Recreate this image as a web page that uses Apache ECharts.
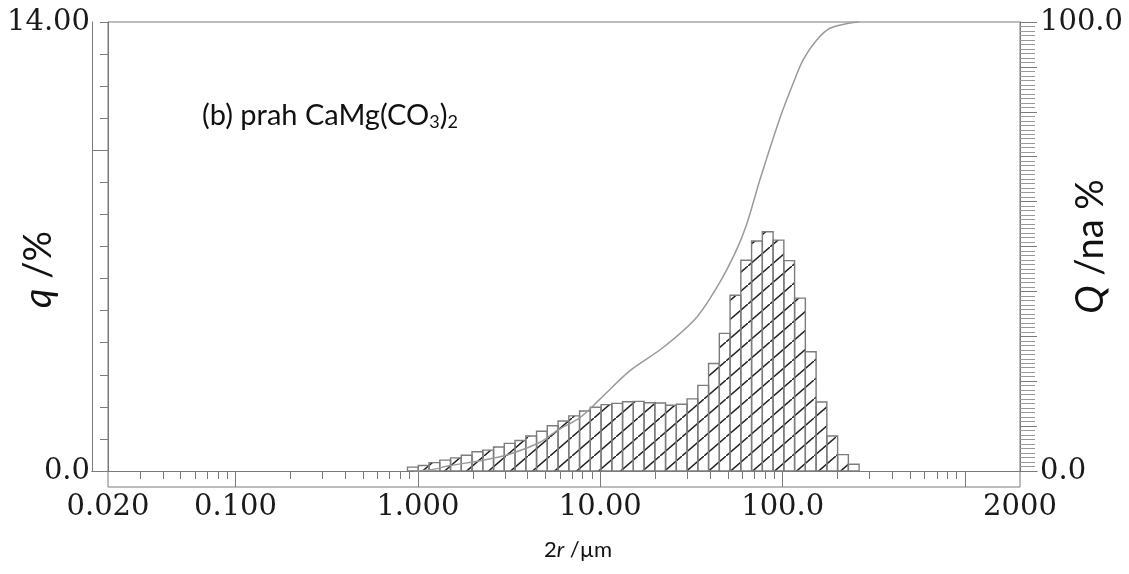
<!DOCTYPE html>
<html>
<head>
<meta charset="utf-8">
<script src="https://cdn.jsdelivr.net/npm/echarts@6/dist/echarts.min.js"></script>
<style>
html,body{margin:0;padding:0;background:#fff;}
#chart{width:1129px;height:574px;}
</style>
</head>
<body>
<div id="chart"></div>
<script>
// ---- data ----
// bin edges (µm), 43 edges for 42 classes
const binEdges = [0.877, 1.005, 1.151, 1.318, 1.510, 1.729, 1.981, 2.269, 2.599, 2.976,
  3.409, 3.905, 4.472, 5.122, 5.867, 6.720, 7.697, 8.816, 10.097, 11.565,
  13.246, 15.172, 17.377, 19.904, 22.797, 26.111, 29.907, 34.255, 39.234, 44.938,
  51.471, 58.953, 67.523, 77.339, 88.583, 101.46, 116.21, 133.10, 152.45, 174.62,
  200.0, 229.08, 262.38];
// frequency q (%) per class
const qValues = [0.12, 0.17, 0.26, 0.34, 0.41, 0.49, 0.60, 0.65, 0.75, 0.86,
  0.95, 1.09, 1.24, 1.41, 1.56, 1.72, 1.87, 1.99, 2.07, 2.11,
  2.16, 2.17, 2.13, 2.12, 2.05, 2.08, 2.25, 2.67, 3.35, 4.29,
  5.48, 6.57, 7.17, 7.46, 7.20, 6.56, 5.39, 3.72, 2.15, 1.09,
  0.51, 0.21];
// cumulative curve Q (%)
const cumSize = [0.95, 1.16, 1.50, 2.28, 3.20, 4.67, 5.79, 7.74, 9.96, 14.5,
  22.1, 33.7, 45.2, 55.9, 63.4, 75.1, 96.6, 114.3, 129.6, 153.6, 181.6, 233.8, 262];
const cumQ = [0.0, 0.2, 1.2, 2.4, 3.8, 6.4, 9.0, 11.9, 16.0, 22.3,
  27.5, 34.2, 42.0, 49.3, 54.9, 64.9, 78.6, 86.4, 91.6, 96.0, 98.6, 99.8, 100];
// axis ticks / labels
const xLabelValues = [0.02, 0.1, 1, 10, 100, 2000];
const xLabelTexts = ['0.020', '0.100', '1.000', '10.00', '100.0', '2000'];
const xMajorTicks = [0.1, 1, 10, 100, 1000];
const xMinorTicks = [0.03, 0.04, 0.05, 0.06, 0.07, 0.08, 0.09,
  0.2, 0.3, 0.4, 0.5, 0.6, 0.7, 0.8, 0.9,
  2, 3, 4, 5, 6, 7, 8, 9,
  20, 30, 40, 50, 60, 70, 80, 90,
  200, 300, 400, 500, 600, 700, 800, 900];
const leftLongTicks = [10];
const leftLabels = {0: '0.0', 14: '14.00'};
const rightLabels = {0: '0.0', 100: '100.0'};

// ---- build ----
const histData = qValues.map((q, i) => [binEdges[i], binEdges[i + 1], q]);
const cumData = cumSize.map((s, i) => [s, cumQ[i]]);

const pc = document.createElement('canvas');
pc.width = 22; pc.height = 19;
const g = pc.getContext('2d');
g.strokeStyle = '#222'; g.lineWidth = 1.5;
g.beginPath(); g.moveTo(-2, 19 + 2 * 19 / 22); g.lineTo(24, -2 * 19 / 22); g.stroke();
const hatch = {image: pc, repeat: 'repeat'};

const axisCol = '#7a7a7a';
const serif = 'DejaVu Serif';
const sans = 'Lato';
const gridBase = {outerBoundsMode: 'none', containLabel: false};

const chart = echarts.init(document.getElementById('chart'));
chart.setOption({
  animation: false,
  backgroundColor: '#fff',
  title: {
    text: '(b) prah CaMg(CO{sub|3}){sub|2}',
    left: 197, top: 95,
    textStyle: {
      fontFamily: sans, fontSize: 29, fontWeight: 'normal', color: '#111',
      rich: {sub: {fontFamily: sans, fontSize: 18, color: '#111', padding: [13, 0, 0, 0]}}
    }
  },
  grid: [
    Object.assign({left: 108, right: 109, top: 22, bottom: 103}, gridBase),
    Object.assign({left: 92, right: 92, top: 22, bottom: 103}, gridBase),
    Object.assign({left: 108, right: 109, top: 22, bottom: 87, show: true, borderColor: axisCol, borderWidth: 1, backgroundColor: 'transparent'}, gridBase)
  ],
  xAxis: [
    {
      type: 'log', logBase: 10, min: 0.02, max: 2000, gridIndex: 0, position: 'bottom',
      axisLine: {show: true, lineStyle: {color: axisCol, width: 1}},
      axisTick: {show: true, inside: false, length: 16, customValues: xMajorTicks, lineStyle: {color: axisCol}},
      axisLabel: {
        show: true, customValues: xLabelValues, margin: 22,
        fontFamily: serif, fontSize: 29, color: '#1a1a1a',
        formatter: function (v) {
          let best = 0, bd = Infinity;
          xLabelValues.forEach((x, i) => { const d = Math.abs(Math.log10(x) - Math.log10(v)); if (d < bd) { bd = d; best = i; } });
          return xLabelTexts[best];
        }
      },
      splitLine: {show: false},
      name: '2{it|r} /µm', nameLocation: 'middle', nameGap: 68, nameMoveOverlap: false,
      nameTextStyle: {fontFamily: sans, fontSize: 22, color: '#111', padding: [0, 0, 0, 28],
        rich: {it: {fontFamily: sans, fontSize: 22, fontStyle: 'italic', color: '#111'}}}
    },
    {
      type: 'log', logBase: 10, min: 0.02, max: 2000, gridIndex: 0, position: 'bottom',
      axisLine: {show: false},
      axisTick: {show: true, inside: false, length: 8, customValues: xMinorTicks, lineStyle: {color: axisCol}},
      axisLabel: {show: false}, splitLine: {show: false}
    },
    {type: 'value', min: 0, max: 1, gridIndex: 1, position: 'top',
      axisLine: {show: true, lineStyle: {color: axisCol}}, axisTick: {show: false}, axisLabel: {show: false}, splitLine: {show: false}},
    {type: 'value', min: 0, max: 1, gridIndex: 1, position: 'bottom',
      axisLine: {show: true, lineStyle: {color: axisCol}}, axisTick: {show: false}, axisLabel: {show: false}, splitLine: {show: false}},
    {type: 'value', min: 0, max: 1, gridIndex: 2, show: false}
  ],
  yAxis: [
    {
      type: 'value', min: 0, max: 14, interval: 1, gridIndex: 0, position: 'left',
      axisLine: {show: true, lineStyle: {color: axisCol}},
      axisTick: {show: true, length: 8, lineStyle: {color: axisCol}},
      axisLabel: {margin: 18, fontFamily: serif, fontSize: 29, color: '#1a1a1a',
        formatter: v => (leftLabels[v] !== undefined ? leftLabels[v] : '')},
      splitLine: {show: false},
      name: '{it|q} /%', nameLocation: 'middle', nameRotate: 90, nameGap: 50, nameMoveOverlap: false,
      nameTextStyle: {fontFamily: sans, fontSize: 38, color: '#111', padding: [0, 46, 0, 0],
        rich: {it: {fontFamily: sans, fontSize: 38, fontStyle: 'italic', color: '#111'}}}
    },
    {
      type: 'value', min: 0, max: 100, interval: 10, gridIndex: 0, position: 'right',
      axisLine: {show: true, lineStyle: {color: axisCol}},
      axisTick: {show: true, length: 17, lineStyle: {color: axisCol}},
      minorTick: {show: true, splitNumber: 10, length: 15, lineStyle: {color: '#999'}},
      axisLabel: {margin: 20, fontFamily: serif, fontSize: 29, color: '#1a1a1a',
        formatter: v => (rightLabels[v] !== undefined ? rightLabels[v] : '')},
      splitLine: {show: false}, minorSplitLine: {show: false},
      name: '{it|Q} /na %', nameLocation: 'middle', nameRotate: 90, nameGap: 52, nameMoveOverlap: false,
      nameTextStyle: {fontFamily: sans, fontSize: 38, color: '#111',
        rich: {it: {fontFamily: sans, fontSize: 38, fontStyle: 'italic', color: '#111'}}}
    },
    {type: 'value', min: 0, max: 1, gridIndex: 1, position: 'left',
      axisLine: {show: true, lineStyle: {color: axisCol}}, axisTick: {show: false}, axisLabel: {show: false}, splitLine: {show: false}},
    {type: 'value', min: 0, max: 1, gridIndex: 2, show: false},
    {
      type: 'value', min: 0, max: 14, gridIndex: 0, position: 'left',
      axisLine: {show: false},
      axisTick: {show: true, length: 16, customValues: leftLongTicks, lineStyle: {color: axisCol}},
      axisLabel: {show: false}, splitLine: {show: false}
    }
  ],
  series: [
    {
      type: 'custom', xAxisIndex: 0, yAxisIndex: 0,
      encode: {x: [0, 1], y: 2},
      data: histData,
      renderItem: function (params, api) {
        const p0 = api.coord([api.value(0), api.value(2)]);
        const p1 = api.coord([api.value(1), 0]);
        return {
          type: 'rect',
          shape: {x: p0[0], y: p0[1], width: p1[0] - p0[0], height: p1[1] - p0[1]},
          style: {fill: hatch, stroke: '#7c7c7c', lineWidth: 1.4}
        };
      }
    },
    {
      type: 'line', xAxisIndex: 0, yAxisIndex: 1,
      data: cumData, showSymbol: false, smooth: 0.3,
      lineStyle: {color: '#9a9a9a', width: 1.5}
    }
  ]
});
</script>
</body>
</html>
